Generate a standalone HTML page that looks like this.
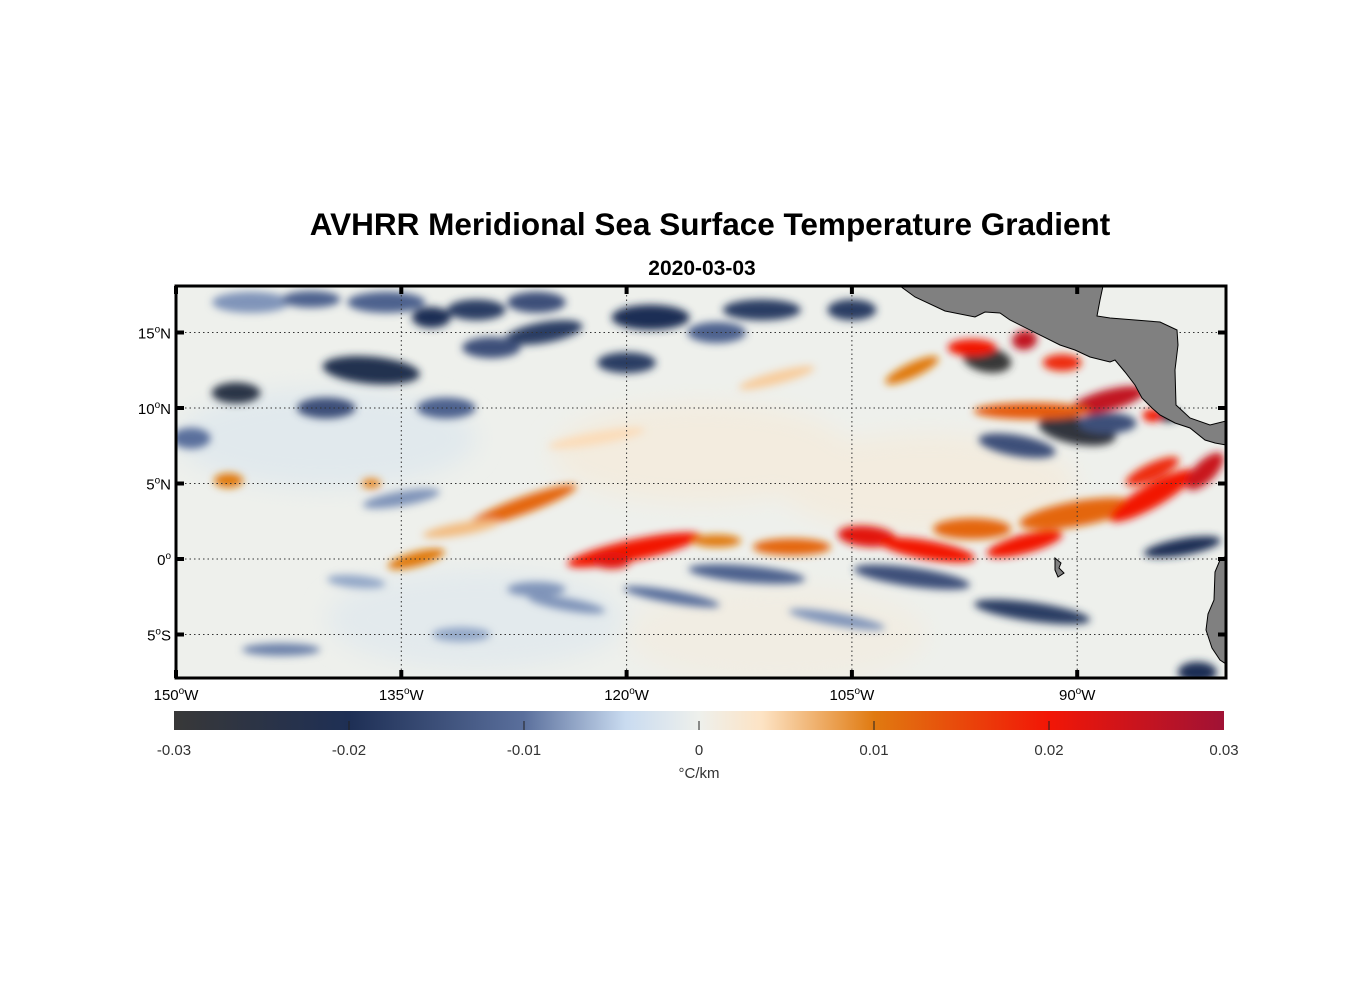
<!DOCTYPE html>
<html><head><meta charset="utf-8"><style>
html,body{margin:0;padding:0;background:#fff;}
svg{display:block;font-family:"Liberation Sans",Arial,sans-serif;}
</style></head><body>
<svg id="chart" width="1356" height="1000" viewBox="0 0 1356 1000">
<defs>
<clipPath id="mapclip"><rect x="176" y="286" width="1050" height="392"/></clipPath>
<filter id="blur" x="-20%" y="-20%" width="140%" height="140%"><feGaussianBlur stdDeviation="4"/></filter>
<filter id="blur2" x="-50%" y="-50%" width="200%" height="200%"><feGaussianBlur stdDeviation="12"/></filter>
<linearGradient id="cbgrad" x1="0" x2="1" y1="0" y2="0">
<stop offset="0" stop-color="#383838"/><stop offset="0.167" stop-color="#1e2f55"/>
<stop offset="0.333" stop-color="#5a6f9c"/><stop offset="0.43" stop-color="#c9dbf0"/>
<stop offset="0.5" stop-color="#eef0ec"/><stop offset="0.56" stop-color="#fde3c4"/>
<stop offset="0.667" stop-color="#e07a10"/><stop offset="0.833" stop-color="#f21606"/>
<stop offset="1" stop-color="#a01235"/>
</linearGradient>
</defs>
<text x="710" y="235" text-anchor="middle" font-size="31.5" font-weight="bold">AVHRR Meridional Sea Surface Temperature Gradient</text>
<text x="702" y="275" text-anchor="middle" font-size="21" font-weight="bold">2020-03-03</text>
<g clip-path="url(#mapclip)">
<rect x="176" y="286" width="1050" height="392" fill="#eef0ec"/>
<g id="broad" filter="url(#blur2)"></g>
<g id="feat" filter="url(#blur)"></g>
<g id="grid"></g>
<path fill="#808080" stroke="#000" stroke-width="1" d="M900,286 L1103,286 L1100,300 L1097,316 L1110,318 L1160,322 L1177,330 L1178,345 L1175,370 L1176,405 L1190,418 L1210,425 L1226,421 L1226,445 L1215,443 L1205,440 L1190,428 L1175,423 L1160,415 L1152,408 L1142,398 L1135,385 L1125,372 L1115,360 L1110,362 L1090,357 L1075,350 L1060,345 L1010,320 L1000,313 L985,312 L975,317 L945,311 L915,297 Z"/>
<path fill="#808080" stroke="#000" stroke-width="1" d="M1226,556 L1220,560 L1215,572 L1214,600 L1208,614 L1206,630 L1212,648 L1220,660 L1226,664 Z"/>
<path fill="#808080" stroke="#000" stroke-width="1" d="M1055,558 L1061,563 L1059,568 L1064,573 L1058,577 L1055,570 Z"/>
</g>
<rect x="176" y="286" width="1050" height="392" fill="none" stroke="#000" stroke-width="3"/>
<g id="axes"></g>
<rect x="174" y="711" width="1050" height="19" fill="url(#cbgrad)"/>
<g id="cbticks"></g>
<text x="699" y="778" text-anchor="middle" font-size="15" fill="#333">°C/km</text>
</svg>
<script>
const NS='http://www.w3.org/2000/svg';
// map features: center lon, lat, value (°C/km)
const featLon=[-145,-141,-136,-133,-130,-126,-125.5,-129,-137,-146,-140,-132,-118.4,-120,-114,-111,-105,-96,-90,-88,-94,-84,-112,-101,-93,-83,-135,-126,-131,-149,-82,
 -146.5,-137,-127,-134,-119.5,-121,-109,-114,-104,-100,-93.5,-97,-90,-85,-81.5,-85,-88,-93,-93.5,-97,-91,-101,-85,
 -131,-124,-117,-106,-143,-138,-122,-110];
const featLat=[17,17.2,17,16,16.5,17,15,14,12.5,11,10,10,16,13,15,16.5,16.5,13.2,8.5,9,7.5,9.5,-1,-1.2,-3.5,0.8,4,-2,-5,8,-7.5,
 5.2,5,3.5,0,0.6,-0.1,0.8,1.2,1.5,0.6,1,2,3,4.2,5.8,5.8,10.5,9.8,14.5,14,13,12.5,9.5,
 2,-3,-2.5,-4,-6,-1.5,8,12];
const featVal=[-0.008,-0.012,-0.012,-0.02,-0.018,-0.015,-0.018,-0.015,-0.022,-0.025,-0.015,-0.012,-0.02,-0.018,-0.012,-0.018,-0.018,-0.03,-0.028,-0.015,-0.015,-0.025,-0.012,-0.015,-0.018,-0.02,-0.008,-0.008,-0.007,-0.01,-0.02,
 0.01,0.009,0.012,0.01,0.02,0.022,0.012,0.01,0.022,0.02,0.02,0.012,0.012,0.02,0.025,0.018,0.026,0.013,0.026,0.02,0.018,0.01,0.02,
 0.006,-0.008,-0.01,-0.008,-0.009,-0.007,0.004,0.005];
// shape (extent in degrees, rotation)
const featLen=[4,3,4,2,3,3,4,3,5,2.5,3,3,4,3,3,4,2.5,2.5,4,3,4,1.5,6,6,6,4,4,3,3,2,2,
 1.5,1,6,3,7,2,4,2.5,3,5,4,4,6,5,2.5,3,4,6,1,2.5,2,3,1,
 4,4,5,5,4,3,5,4];
const featWid=[1,0.8,1,1,1,1,1,1,1.3,1,1,1,1.2,1,1,1,1,1.2,1.3,1,1,0.6,0.8,0.9,0.9,0.8,0.7,0.7,0.7,1,1,
 0.7,0.5,0.8,0.7,1,0.8,0.8,0.6,1,0.9,0.9,1,1.2,1.1,1,0.8,1,0.8,1.2,0.8,0.8,0.7,0.6,
 0.6,0.6,0.6,0.6,0.6,0.6,0.6,0.6];
const featRot=[0,0,0,0,0,0,-10,0,5,0,0,0,0,0,0,0,0,10,10,0,10,0,5,8,8,-10,-10,0,0,0,0,
 0,0,-20,-15,-12,0,0,0,5,10,-15,0,-10,-30,-45,-25,-15,0,80,0,0,-25,0,
 -10,10,10,10,0,5,-10,-15];
// broad faint areas
const broadLon=[-115,-100,-140,-130,-110];
const broadLat=[7,5,8,-4,-5];
const broadVal=[0.0012,0.0012,-0.0015,-0.0012,0.0008];
const lonTicks=[-150,-135,-120,-105,-90];
const latTicks=[15,10,5,0,-5];
const cbTicks=[-0.03,-0.02,-0.01,0,0.01,0.02,0.03];
const cbLabels=['-0.03','-0.02','-0.01','0','0.01','0.02','0.03'];

const X=lon=>176+(lon+150)*15.02;
const Y=lat=>559-lat*15.1;
const CX=v=>174+(v+0.03)/0.06*1050;
const stops=[[-0.03,[56,56,56]],[-0.02,[30,47,85]],[-0.01,[90,111,156]],[-0.0042,[201,219,240]],[0,[238,240,236]],[0.0036,[253,227,196]],[0.01,[224,122,16]],[0.02,[242,22,6]],[0.03,[160,18,53]]];
function cmap(v){v=Math.max(-0.03,Math.min(0.03,v));for(let i=0;i<stops.length-1;i++){const[a,ca]=stops[i],[b,cb]=stops[i+1];if(v<=b){const t=(v-a)/(b-a);return 'rgb('+ca.map((c,k)=>Math.round(c+(cb[k]-c)*t)).join(',')+')';}}return 'rgb(160,18,53)';}

const broad=document.getElementById('broad');
broadLon.forEach((lon,i)=>{const e=document.createElementNS(NS,'ellipse');


e.setAttribute('cx',X(lon));e.setAttribute('cy',Y(broadLat[i]));e.setAttribute('rx',150);e.setAttribute('ry',50);e.setAttribute('fill',cmap(broadVal[i]));broad.appendChild(e);});

const feat=document.getElementById('feat');
featLon.forEach((lon,i)=>{const e=document.createElementNS(NS,'ellipse');


const cx=X(lon),cy=Y(featLat[i]);
e.setAttribute('cx',cx);e.setAttribute('cy',cy);e.setAttribute('rx',featLen[i]*15*0.65);e.setAttribute('ry',featWid[i]*15*0.7);
e.setAttribute('transform','rotate('+featRot[i]+' '+cx+' '+cy+')');
e.setAttribute('fill',cmap(featVal[i]));feat.appendChild(e);});

const grid=document.getElementById('grid');
lonTicks.slice(1).forEach(l=>{const ln=document.createElementNS(NS,'line');


ln.setAttribute('x1',X(l));ln.setAttribute('x2',X(l));ln.setAttribute('y1',286);ln.setAttribute('y2',678);ln.setAttribute('stroke','#333');ln.setAttribute('stroke-width','1');ln.setAttribute('stroke-dasharray','1.5 3');grid.appendChild(ln);});
latTicks.forEach(l=>{const ln=document.createElementNS(NS,'line');


ln.setAttribute('x1',176);ln.setAttribute('x2',1226);ln.setAttribute('y1',Y(l));ln.setAttribute('y2',Y(l));ln.setAttribute('stroke','#333');ln.setAttribute('stroke-width','1');ln.setAttribute('stroke-dasharray','1.5 3');grid.appendChild(ln);});

const axes=document.getElementById('axes');
function tk(x1,y1,x2,y2){const l=document.createElementNS(NS,'line');


l.setAttribute('x1',x1);l.setAttribute('y1',y1);l.setAttribute('x2',x2);l.setAttribute('y2',y2);l.setAttribute('stroke','#000');l.setAttribute('stroke-width','4');axes.appendChild(l);}
lonTicks.forEach(l=>{const x=X(l);tk(x,286,x,294);tk(x,670,x,678);
const t=document.createElementNS(NS,'text');


t.setAttribute('x',x);t.setAttribute('y',700);t.setAttribute('text-anchor','middle');t.setAttribute('font-size','15');
t.innerHTML=Math.abs(l)+'<tspan dy="-6" font-size="10">o</tspan><tspan dy="6">W</tspan>';axes.appendChild(t);});
latTicks.forEach(l=>{const y=Y(l);tk(176,y,184,y);tk(1218,y,1226,y);
const t=document.createElementNS(NS,'text');


t.setAttribute('x',171);t.setAttribute('y',y+6);t.setAttribute('text-anchor','end');t.setAttribute('font-size','15');
t.innerHTML=Math.abs(l)+'<tspan dy="-6" font-size="10">o</tspan><tspan dy="6">'+(l>0?'N':(l<0?'S':''))+'</tspan>';axes.appendChild(t);});

const cbt=document.getElementById('cbticks');
cbTicks.forEach((v,i)=>{const x=CX(v);
if(i>0&&i<cbTicks.length-1){const l=document.createElementNS(NS,'line');


l.setAttribute('x1',x);l.setAttribute('x2',x);l.setAttribute('y1',721);l.setAttribute('y2',730);l.setAttribute('stroke','#222');l.setAttribute('stroke-width','1');cbt.appendChild(l);}
const t=document.createElementNS(NS,'text');


t.setAttribute('x',x);t.setAttribute('y',755);t.setAttribute('text-anchor','middle');t.setAttribute('font-size','15');t.setAttribute('fill','#333');
t.textContent=cbLabels[i];cbt.appendChild(t);});
</script>
</body></html>
